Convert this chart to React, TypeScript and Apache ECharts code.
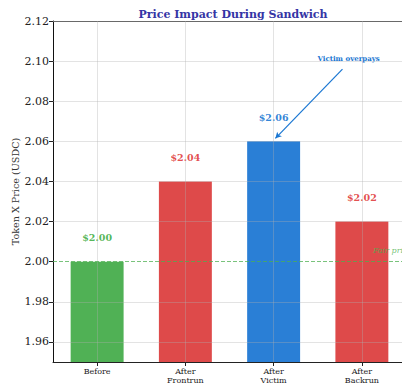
import React, { useEffect, useRef } from "react";
import * as echarts from "echarts";

const categories = ["Before", "After\nFrontrun", "After\nVictim", "After\nBackrun"];
const prices = [2.0, 2.04, 2.06, 2.02];
const priceLabels = ["$2.00", "$2.04", "$2.06", "$2.02"];
const barColors = ["#3DA842", "#DA3636", "#1371D1", "#DA3636"];
const labelColors = ["#3FAE44", "#E03A3A", "#1976D2", "#E03A3A"];
const yTicks = [1.96, 1.98, 2.0, 2.02, 2.04, 2.06, 2.08, 2.1, 2.12];
const fairPrice = 2.0;
const arrowFrom = [2.78, 2.096];
const arrowTo = [2.02, 2.0615];
const annotationPos = [2.85, 2.1012];
const fairLabelPos = [3.125, 2.0055];

export default function App() {
  const ref = useRef<HTMLDivElement>(null);
  useEffect(() => {
    if (!ref.current) return;
    const chart = echarts.init(ref.current, null, { renderer: "svg" });
    const serif = "DejaVu Serif";
    const gridLine = { color: "rgba(176,176,176,0.35)", width: 1, type: "solid" as const };
    chart.setOption({
      animation: false,
      title: {
        text: "Price Impact During Sandwich",
        left: 228,
        top: 4,
        textAlign: "center",
        textStyle: { fontFamily: serif, fontSize: 11, fontWeight: "bold", color: "#3535A5" },
      },
      grid: { left: 53, right: -4, top: 21, bottom: 21, containLabel: false, outerBoundsMode: "none" },
      xAxis: [
        {
          type: "category",
          data: categories,
          boundaryGap: true,
          axisLine: { show: true, onZero: false, lineStyle: { color: "#222", width: 1 } },
          axisTick: { show: true, alignWithLabel: true, length: 4, lineStyle: { color: "#222" } },
          axisLabel: { fontFamily: serif, fontSize: 8, lineHeight: 9, color: "#222", margin: 5 },
          splitLine: { show: false },
        },
        {
          type: "value",
          position: "top",
          min: -0.5,
          max: 3.5,
          axisLine: { show: true, onZero: false, lineStyle: { color: "#444", width: 1 } },
          axisTick: { show: false },
          axisLabel: { show: false },
          splitLine: { show: false },
        },
      ],
      yAxis: {
        type: "value",
        min: 1.95,
        max: 2.12,
        name: "Token X Price (USDC)",
        nameLocation: "middle",
        nameGap: 33,
        nameMoveOverlap: false,
        nameTextStyle: { fontFamily: serif, fontSize: 9.6, color: "#333" },
        axisLine: { show: true, onZero: false, lineStyle: { color: "#111", width: 1 } },
        axisTick: { show: true, length: 4, customValues: yTicks, lineStyle: { color: "#222" } },
        axisLabel: {
          fontFamily: serif,
          fontSize: 11,
          color: "#222",
          margin: 4,
          customValues: yTicks,
          formatter: (v: number) => v.toFixed(2),
        },
        splitLine: { show: false },
      },
      series: [
        {
          type: "bar",
          xAxisIndex: 0,
          barWidth: "60%",
          z: 2,
          data: prices.map((v, i) => ({
            value: v,
            itemStyle: { color: barColors[i], opacity: 0.9 },
            label: {
              show: true,
              position: "top",
              distance: 19,
              formatter: priceLabels[i],
              fontFamily: serif,
              fontSize: 9.5,
              fontWeight: "bold",
              color: labelColors[i],
            },
          })),
        },
        {
          type: "line",
          xAxisIndex: 1,
          data: [],
          z: 5,
          silent: true,
          markLine: {
            silent: true,
            symbol: "none",
            label: { show: false },
            lineStyle: gridLine,
            data: [
              ...categories.map((_, i) => ({ xAxis: i })),
              ...yTicks.filter((t) => t !== fairPrice).map((t) => ({ yAxis: t })),
            ],
          },
        },
        {
          type: "line",
          xAxisIndex: 1,
          data: [],
          z: 6,
          silent: true,
          color: "#4CAF50",
          markLine: {
            silent: true,
            symbol: "none",
            label: { show: false },
            lineStyle: { color: "#4CAF50", type: [4, 2], width: 1, opacity: 0.75 },
            data: [{ yAxis: fairPrice }],
          },
        },
        {
          type: "line",
          xAxisIndex: 1,
          data: [],
          z: 7,
          silent: true,
          color: "#1976D2",
          markLine: {
            silent: true,
            symbol: ["none", "arrow"],
            symbolSize: [5, 6],
            label: { show: false },
            data: [[{ coord: arrowFrom }, { coord: arrowTo }]],
            lineStyle: { color: "#1976D2", width: 1.2, type: "solid" },
          },
          markPoint: {
            silent: true,
            symbol: "circle",
            symbolSize: 0,
            data: [
              {
                coord: annotationPos,
                label: {
                  show: true,
                  position: "inside",
                  formatter: "Victim overpays",
                  fontFamily: serif,
                  fontSize: 7,
                  fontWeight: "bold",
                  color: "#1976D2",
                },
              },
              {
                coord: fairLabelPos,
                label: {
                  show: true,
                  position: "right",
                  distance: 0,
                  formatter: "Fair price",
                  fontFamily: serif,
                  fontSize: 8,
                  fontStyle: "italic",
                  color: "rgba(76,175,80,0.8)",
                },
              },
            ],
          },
        },
      ],
    });
    return () => chart.dispose();
  }, []);
  return <div ref={ref} style={{ width: 402, height: 383, position: "absolute", left: 0, top: 0 }} />;
}
